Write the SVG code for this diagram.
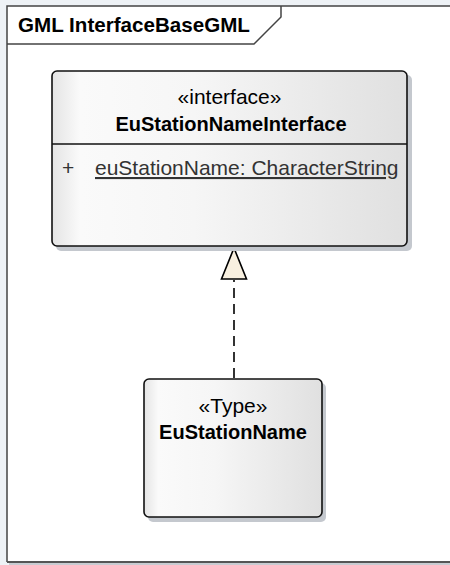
<svg xmlns="http://www.w3.org/2000/svg" width="450" height="565" viewBox="0 0 450 565">
  <style>
    text { font-family: "Liberation Sans", Arial, sans-serif; fill: #000; }
    .title { font-size: 20.6px; font-weight: bold; }
    .stereo { font-size: 21px; text-anchor: middle; }
    .name { font-size: 20px; font-weight: bold; text-anchor: middle; }
    .attr { font-size: 21px; fill: #333; }
    .box { fill: url(#boxFill); stroke: #111; stroke-width: 1.6; }
    .shadow { fill: #c4c8ce; }
    .frame { fill: none; stroke: #444; stroke-width: 1.5; }
    .dep { stroke: #000; stroke-width: 1.6; stroke-dasharray: 10 6; fill: none; }
  </style>
  <defs>
    <linearGradient id="boxFill" x1="0" y1="0" x2="1" y2="0">
      <stop offset="0" stop-color="#e4e4e4"/>
      <stop offset="0.08" stop-color="#fafafa"/>
      <stop offset="0.4" stop-color="#f6f6f6"/>
      <stop offset="1" stop-color="#e0e0e0"/>
    </linearGradient>
  </defs>

  <!-- page background outside the frame -->
  <rect x="0" y="0" width="450" height="565" fill="#eef2f6"/>
  <rect x="7" y="6" width="450" height="556" fill="#ffffff"/>
  <path d="M9 564 H450" stroke="#c8ccd2" stroke-width="2"/>

  <!-- package frame -->
  <g id="frame">
    <path class="frame" d="M7 562 V6 H452"/>
    <path d="M7 562 H452" stroke="#555" stroke-width="2"/>
    <path class="frame" d="M7 44 H254 L281 17 V6" />
    <text class="title" x="18" y="32">GML InterfaceBaseGML</text>
  </g>

  <!-- connectors: realization with hollow triangle head -->
  <g id="connectors">
    <path class="dep" d="M234 378 V280" />
    <path d="M234 248 L246.5 279 L221.5 279 Z" fill="#f8f0e0" stroke="#000" stroke-width="1.6"/>
  </g>

  <!-- interface node -->
  <g id="EuStationNameInterface">
    <rect class="shadow" x="56" y="75" width="356" height="176" rx="5"/>
    <rect class="box" x="52" y="71" width="355" height="175" rx="5"/>
    <line x1="52" y1="144" x2="407" y2="144" stroke="#111" stroke-width="1.6"/>
    <text class="stereo" x="229.5" y="104">«interface»</text>
    <text class="name" x="231" y="131">EuStationNameInterface</text>
    <text class="attr" x="62" y="175">+</text>
    <text class="attr" x="95" y="175" text-decoration="underline">euStationName: CharacterString</text>
  </g>

  <!-- type node -->
  <g id="EuStationName">
    <rect class="shadow" x="148" y="383" width="178" height="139" rx="5"/>
    <rect class="box" x="144" y="379" width="178" height="138" rx="5"/>
    <text class="stereo" x="233" y="413">«Type»</text>
    <text class="name" x="233" y="439">EuStationName</text>
  </g>
</svg>
